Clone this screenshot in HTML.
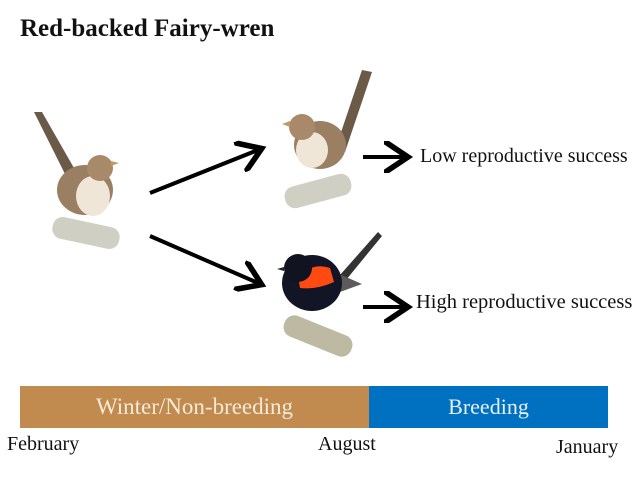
<!DOCTYPE html>
<html><head><meta charset="utf-8"><style>
body{margin:0;width:640px;height:480px;background:#fff;position:relative;overflow:hidden;font-family:"Liberation Serif",serif}
.t{position:absolute;white-space:nowrap}
</style></head><body>
<div class="t" style="left:20px;top:15px;font-size:25px;font-weight:bold;color:#111">Red-backed Fairy-wren</div>
<svg width="640" height="480" style="position:absolute;left:0;top:0">
<defs><marker id="a" markerWidth="8" markerHeight="8" refX="5" refY="4" orient="auto" markerUnits="strokeWidth"><path d="M0,0 L6,4 L0,8" fill="none" stroke="#000" stroke-width="1.4"/></marker></defs>
<rect x="52" y="222" width="68" height="22" rx="10" fill="#cfcfc4" transform="rotate(12 86 233)"/>
<path d="M68,180 L34,112 L42,112 L78,175Z" fill="#6b5a48"/>
<ellipse cx="85" cy="190" rx="28" ry="25" fill="#9a7f62"/>
<ellipse cx="93" cy="196" rx="17" ry="20" fill="#efe6d8"/>
<circle cx="100" cy="168" r="13" fill="#a88a6a"/>
<path d="M111,161 L119,163 L111,166Z" fill="#c2986a"/>
<line x1="150" y1="193" x2="258" y2="150" stroke="#000" stroke-width="4" marker-end="url(#a)"/>
<line x1="150" y1="236" x2="258" y2="283" stroke="#000" stroke-width="4" marker-end="url(#a)"/>
<line x1="363" y1="157" x2="404" y2="157" stroke="#000" stroke-width="4" marker-end="url(#a)"/>
<line x1="363" y1="307" x2="404" y2="307" stroke="#000" stroke-width="4" marker-end="url(#a)"/>
<rect x="284" y="180" width="68" height="22" rx="10" fill="#cfcfc4" transform="rotate(-15 318 191)"/>
<path d="M335,150 L362,70 L372,72 L345,152Z" fill="#6b5a48"/>
<ellipse cx="320" cy="145" rx="26" ry="24" fill="#9a7f62"/>
<ellipse cx="312" cy="150" rx="16" ry="18" fill="#efe6d8"/>
<circle cx="302" cy="127" r="13" fill="#a88a6a"/>
<path d="M290,121 L282,124 L290,127Z" fill="#c2986a"/>
<rect x="282" y="325" width="72" height="22" rx="10" fill="#bdb9a2" transform="rotate(22 318 336)"/>
<path d="M340,275 L378,232 L382,236 L346,280Z" fill="#333"/>
<path d="M330,270 L362,284 L340,292Z" fill="#5e5a5c"/>
<ellipse cx="312" cy="283" rx="30" ry="28" fill="#121525"/>
<path d="M298,276 Q314,262 330,268 L334,282 Q316,290 300,288Z" fill="#ff4a12"/>
<circle cx="298" cy="268" r="14" fill="#111420"/>
<path d="M284,267 L277,269 L284,271Z" fill="#222"/>
<rect x="20" y="386" width="349" height="42" fill="#c18b4f"/>
<rect x="369" y="386" width="239" height="42" fill="#0070c0"/>
</svg>
<div class="t" style="left:420px;top:145px;font-size:20px;color:#111">Low reproductive success</div>
<div class="t" style="left:416px;top:291px;font-size:20.5px;color:#111">High reproductive success</div>
<div class="t" style="left:20px;top:386px;width:349px;text-align:center;line-height:42px;font-size:23px;color:#f4ead8">Winter/Non-breeding</div>
<div class="t" style="left:369px;top:386px;width:239px;text-align:center;line-height:42px;font-size:22px;color:#e6f0fa">Breeding</div>
<div class="t" style="left:7px;top:433px;font-size:20px;color:#111">February</div>
<div class="t" style="left:318px;top:433px;font-size:20px;color:#111">August</div>
<div class="t" style="left:556px;top:436px;font-size:20px;color:#111">January</div>
</body></html>
